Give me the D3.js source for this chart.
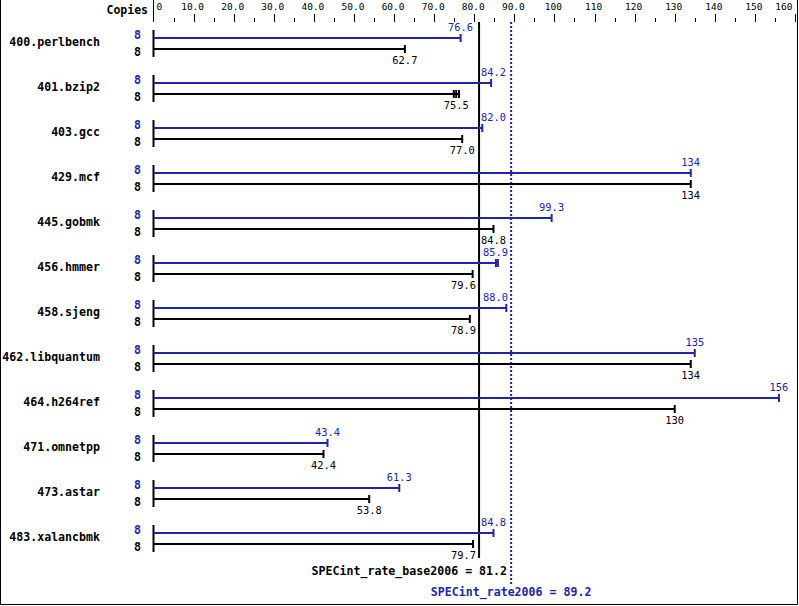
<!DOCTYPE html>
<html><head><meta charset="utf-8">
<script src="https://cdn.jsdelivr.net/npm/d3@7"></script>
<style>body{margin:0;background:#fff}svg{display:block}</style>
</head><body><svg id="c" width="799" height="606"></svg>
<script>
const benchmarks = ["400.perlbench","401.bzip2","403.gcc","429.mcf","445.gobmk","456.hmmer","458.sjeng","462.libquantum","464.h264ref","471.omnetpp","473.astar","483.xalancbmk"];
const peakValues = [76.6, 84.2, 82.0, 134, 99.3, 85.9, 88.0, 135, 156, 43.4, 61.3, 84.8];
const peakLabels = ["76.6","84.2","82.0","134","99.3","85.9","88.0","135","156","43.4","61.3","84.8"];
const baseValues = [62.7, 75.5, 77.0, 134, 84.8, 79.6, 78.9, 134, 130, 42.4, 53.8, 79.7];
const baseLabels = ["62.7","75.5","77.0","134","84.8","79.6","78.9","134","130","42.4","53.8","79.7"];
const peakCopies = [8,8,8,8,8,8,8,8,8,8,8,8];
const baseCopies = [8,8,8,8,8,8,8,8,8,8,8,8];
// extra run markers (other runs besides the median)
const peakExtraRuns = [[],[],[],[],[],[85.4],[],[],[],[],[],[]];
const baseExtraRuns = [[],[74.9,76.2],[],[],[],[],[],[],[],[],[],[]];
const tickValues = [0,10,20,30,40,50,60,70,80,90,100,110,120,130,140,150,160];
const tickLabels = ["0","10.0","20.0","30.0","40.0","50.0","60.0","70.0","80.0","90.0","100","110","120","130","140","150","160"];
const minorTicks = [5,15,25,35,45,55,65,75,85,95,105,115,125,135,145,155];
const baseMean = 81.2, peakMean = 89.2;

const BLUE = "#2323a8", BLACK = "#000";
const mono = "'DejaVu Sans Mono', 'Liberation Mono', monospace";
const svg = d3.select("#c");
const x = d3.scaleLinear().domain([0,160]).range([153.5,795]);
const y = d3.scaleBand().domain(benchmarks).range([31, 571]).paddingInner(0).paddingOuter(0);
const rowY = b => y(b);

// frame
svg.append("path").attr("d","M0.5,-1 V604.5 H797.5 V-1").attr("fill","none").attr("stroke","#000").attr("stroke-width",1);

// top axis
const axisG = svg.append("g").attr("transform","translate(0,22)");
axisG.append("line").attr("x1",x(0)).attr("x2",x(0)).attr("y1",-22).attr("y2",0).attr("stroke","#000").attr("stroke-width",1);
const ax = d3.axisTop(x).tickValues(tickValues).tickSize(8).tickFormat((d,i)=>tickLabels[i]);
axisG.call(ax);
axisG.select(".domain").remove();
axisG.selectAll(".tick line").attr("stroke","#000").attr("stroke-width",1).attr("shape-rendering","crispEdges");
axisG.selectAll(".tick").filter(d=>d===0).select("line").remove();
axisG.selectAll(".tick text").attr("font-family",mono).attr("font-size","9.5px").attr("fill","#000")
  .attr("y",-12).attr("dy",0).attr("x",-1.5)
  .each(function(d){
    const t=d3.select(this);
    if(d===0){t.attr("text-anchor","start").attr("x",2.5);}
    if(d===160){t.attr("text-anchor","end").attr("x",-3);}
  });
const minorAx = d3.axisTop(x).tickValues(minorTicks).tickSize(4).tickFormat("");
const mg = svg.append("g").attr("transform","translate(0,22)").call(minorAx);
mg.select(".domain").remove();
mg.selectAll(".tick line").attr("stroke","#000").attr("shape-rendering","crispEdges");

svg.append("text").attr("x",148).attr("y",14).attr("text-anchor","end")
  .attr("font-family",mono).attr("font-weight","bold").attr("font-size","11.5px").text("Copies");

// mean lines
svg.append("line").attr("x1",x(baseMean)).attr("x2",x(baseMean)).attr("y1",22).attr("y2",558)
  .attr("stroke","#000").attr("stroke-width",2);
svg.append("line").attr("x1",x(peakMean)).attr("x2",x(peakMean)).attr("y1",22).attr("y2",584)
  .attr("stroke",BLUE).attr("stroke-width",2).attr("stroke-dasharray","2,2");
svg.append("text").attr("x",x(baseMean)+28).attr("y",575).attr("text-anchor","end")
  .attr("font-family",mono).attr("font-weight","bold").attr("font-size","11.6px").attr("fill","#000")
  .text("SPECint_rate_base2006 = 81.2");
svg.append("text").attr("x",x(peakMean)).attr("y",596).attr("text-anchor","middle")
  .attr("font-family",mono).attr("font-weight","bold").attr("font-size","11.6px").attr("fill",BLUE)
  .text("SPECint_rate2006 = 89.2");

// rows
const rows = svg.append("g").selectAll("g").data(benchmarks).join("g")
  .attr("transform",b=>`translate(0,${rowY(b)})`);

rows.append("text").attr("x",100).attr("y",14.5).attr("text-anchor","end")
  .attr("font-family",mono).attr("font-weight","bold").attr("font-size","11.6px").text(b=>b);
rows.append("text").attr("x",141).attr("y",7.5).attr("text-anchor","end").attr("fill",BLUE)
  .attr("font-family",mono).attr("font-weight","bold").attr("font-size","11.6px").text((b,i)=>peakCopies[i]);
rows.append("text").attr("x",141).attr("y",25).attr("text-anchor","end").attr("fill",BLACK)
  .attr("font-family",mono).attr("font-weight","bold").attr("font-size","11.6px").text((b,i)=>baseCopies[i]);
rows.append("line").attr("x1",x(0)).attr("x2",x(0)).attr("y1",-1).attr("y2",26).attr("stroke","#000").attr("stroke-width",2);

const CHAR_W = 6.26;
const meanXs = [x(baseMean), x(peakMean)];
function labelPos(v, label){
  const c = x(v);
  const w = label.length*CHAR_W;
  let left = c - w/2, right = c + w/2;
  for(const L of meanXs){
    if(right > L-2 && left < L+2){
      if(c < L){ right = L-3; left = right - w; }
      else { left = L+2; right = left + w; }
    }
  }
  return left;
}

function drawBar(sel, vals, extras, labels, dy, color, labelDy){
  sel.append("line").attr("x1",x(0)).attr("x2",(b,i)=>x(Math.max(vals[i],...extras[i])))
    .attr("y1",dy).attr("y2",dy).attr("stroke",color).attr("stroke-width",2);
  sel.each(function(b,i){
    const g=d3.select(this);
    [vals[i],...extras[i]].forEach(v=>{
      g.append("line").attr("x1",x(v)).attr("x2",x(v)).attr("y1",dy-4).attr("y2",dy+4)
        .attr("stroke",color).attr("stroke-width",2);
    });
  });
  sel.append("text").attr("x",(b,i)=>labelPos(vals[i],labels[i])).attr("y",dy+labelDy).attr("text-anchor","start")
    .attr("font-family",mono).attr("font-size","10.4px").attr("fill",color).text((b,i)=>labels[i]);
}
drawBar(rows, peakValues, peakExtraRuns, peakLabels, 7, BLUE, -7);
drawBar(rows, baseValues, baseExtraRuns, baseLabels, 18, BLACK, 15);
</script></body></html>
